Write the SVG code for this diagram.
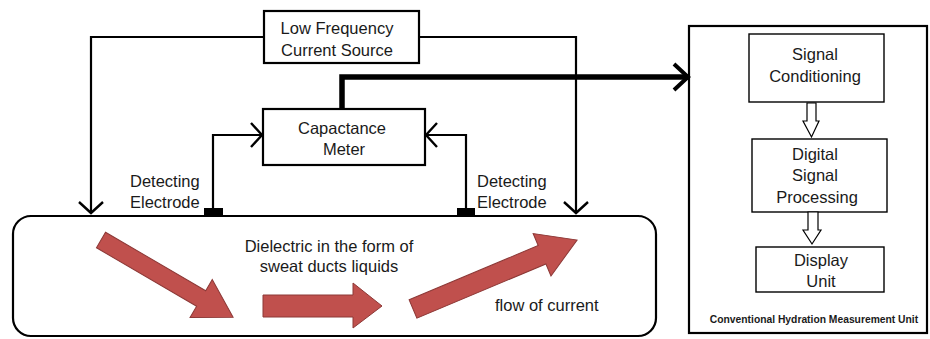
<svg xmlns="http://www.w3.org/2000/svg" width="930" height="339" viewBox="0 0 930 339">
<style>
  .box{fill:#fff;stroke:#000;stroke-width:2.2}
  .tbox{fill:#fff;stroke:#000;stroke-width:1.4}
  .ln{fill:none;stroke:#000;stroke-width:2.2}
  .t{font-family:"Liberation Sans",Arial,sans-serif;font-size:16.5px;fill:#1a1a1a}
  .c{text-anchor:middle}
  .cap{font-family:"Liberation Sans",Arial,sans-serif;font-size:10.3px;font-weight:bold;fill:#1a1a1a;text-anchor:middle}
  .red{fill:#C0504D;stroke:#8C3836;stroke-width:1}
  .hol{fill:#fff;stroke:#000;stroke-width:1.2}
</style>
<defs>
  <marker id="chev" markerUnits="userSpaceOnUse" markerWidth="30" markerHeight="30" refX="12" refY="13" orient="auto" viewBox="0 0 30 30">
    <path d="M1,1 L12,13 L1,25" fill="none" stroke="#000" stroke-width="2.4"/>
  </marker>
  <marker id="chevB" markerUnits="userSpaceOnUse" markerWidth="30" markerHeight="34" refX="16" refY="15" orient="auto" viewBox="0 0 30 34">
    <path d="M2,2 L16,15 L2,28" fill="none" stroke="#000" stroke-width="4"/>
  </marker>
</defs>

<g id="sweat-ducts">
  <rect class="box" x="13" y="216" width="643" height="120" rx="18"/>
  <text class="t c" x="329" y="252">Dielectric in the form of</text>
  <text class="t c" x="329" y="272">sweat ducts liquids</text>
  <text class="t" x="495" y="311">flow of current</text>
  <polygon class="red" transform="translate(101,240) rotate(30.3)" points="0,-9 116,-9 116,-22 153,0 116,22 116,9 0,9"/>
  <polygon class="red" points="263,295 353,295 353,283 382,306 353,328 353,317 263,317"/>
  <polygon class="red" transform="translate(413,309) rotate(-22.8)" points="0,-10 140,-10 140,-23 178,0 140,23 140,10 0,10"/>
</g>

<g id="low-frequency-current-source">
  <rect class="box" x="264" y="11" width="155" height="52"/>
  <text class="t c" x="337" y="34">Low Frequency</text>
  <text class="t c" x="337" y="56">Current Source</text>
</g>

<g id="capacitance-meter">
  <rect class="box" x="263" y="109" width="162" height="56"/>
  <text class="t c" x="342" y="134">Capactance</text>
  <text class="t c" x="344" y="155">Meter</text>
</g>

<g id="electrode-left">
  <rect x="204" y="208" width="19" height="8" fill="#000"/>
  <text class="t" x="130" y="187">Detecting</text>
  <text class="t" x="130" y="208">Electrode</text>
</g>

<g id="electrode-right">
  <rect x="457" y="208" width="18" height="8" fill="#000"/>
  <text class="t" x="477" y="187">Detecting</text>
  <text class="t" x="477" y="208">Electrode</text>
</g>

<g id="hydration-unit">
  <rect class="box" x="689" y="26" width="238" height="307"/>
  <text class="cap" x="814" y="323">Conventional Hydration Measurement Unit</text>
</g>

<g id="signal-conditioning">
  <rect class="tbox" x="749" y="34" width="135" height="68"/>
  <text class="t c" x="815" y="60">Signal</text>
  <text class="t c" x="815" y="82">Conditioning</text>
</g>

<g id="digital-signal-processing">
  <rect class="tbox" x="752" y="139" width="135" height="73"/>
  <text class="t c" x="815" y="160">Digital</text>
  <text class="t c" x="815" y="181">Signal</text>
  <text class="t c" x="817" y="203">Processing</text>
</g>

<g id="display-unit">
  <rect class="tbox" x="756" y="247" width="128" height="45"/>
  <text class="t c" x="821" y="266">Display</text>
  <text class="t c" x="821" y="287">Unit</text>
</g>

<g id="connectors">
  <polyline class="ln" points="264,37 91,37 91,213" marker-end="url(#chev)"/>
  <polyline class="ln" points="419,37 576,37 576,213" marker-end="url(#chev)"/>
  <polyline class="ln" points="213,208 213,135 262,135" marker-end="url(#chev)"/>
  <polyline class="ln" points="466,208 466,135 426,135" marker-end="url(#chev)"/>
  <polyline fill="none" stroke="#000" stroke-width="5.5" points="342,109 342,77 688,77" marker-end="url(#chevB)"/>
  <polygon class="hol" points="807,103 816,103 816,121 819,121 811.5,137 803,121 807,121"/>
  <polygon class="hol" points="808,212 818,212 818,230 821,230 812,244 803,230 808,230"/>
</g>
</svg>
